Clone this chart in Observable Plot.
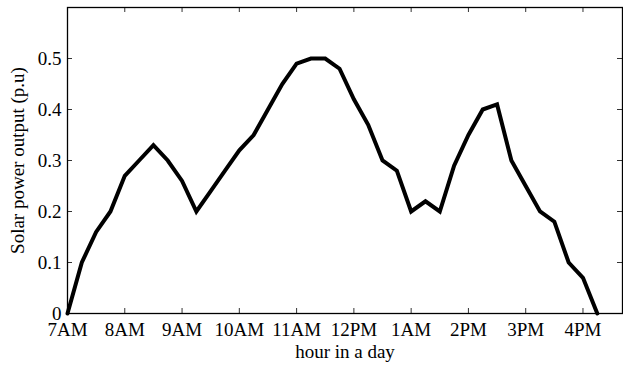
<!DOCTYPE html>
<html>
<head>
<meta charset="utf-8">
<script src="https://cdn.jsdelivr.net/npm/d3@7"></script>
<script src="https://cdn.jsdelivr.net/npm/@observablehq/plot@0.6"></script>
<style>
  html, body { margin: 0; padding: 0; background: #fff; }
  svg { display: block; }
</style>
</head>
<body>
<div id="chart"></div>
<script>
// hours after 7AM, 15-minute steps
const hours = [0, 0.25, 0.5, 0.75, 1, 1.25, 1.5, 1.75, 2, 2.25, 2.5, 2.75, 3, 3.25, 3.5, 3.75,
  4, 4.25, 4.5, 4.75, 5, 5.25, 5.5, 5.75, 6, 6.25, 6.5, 6.75, 7, 7.25, 7.5, 7.75,
  8, 8.25, 8.5, 8.75, 9, 9.25];
const power = [0, 0.10, 0.16, 0.20, 0.27, 0.30, 0.33, 0.30, 0.26, 0.20, 0.24, 0.28, 0.32, 0.35, 0.40, 0.45,
  0.49, 0.50, 0.50, 0.48, 0.42, 0.37, 0.30, 0.28, 0.20, 0.22, 0.20, 0.29, 0.35, 0.40, 0.41, 0.30,
  0.25, 0.20, 0.18, 0.10, 0.07, 0];
const xTicks = [0, 1, 2, 3, 4, 5, 6, 7, 8, 9];
const xTickLabels = ["7AM", "8AM", "9AM", "10AM", "11AM", "12PM", "1AM", "2PM", "3PM", "4PM"];
const yTicks = [0, 0.1, 0.2, 0.3, 0.4, 0.5];
const yTickLabels = ["0", "0.1", "0.2", "0.3", "0.4", "0.5"];

const data = hours.map((h, i) => ({h, p: power[i]}));
const W = 623, H = 367, mT = 7, mB = 54, mL = 67, mR = 1;
const innerH = H - mT - mB, innerW = W - mL - mR;
const tk = 5;

const chart = Plot.plot({
  width: W,
  height: H,
  marginTop: mT,
  marginBottom: mB,
  marginLeft: mL,
  marginRight: mR,
  style: {fontFamily: "'Liberation Serif', 'DejaVu Serif', serif", fontSize: "19px", color: "#000", background: "#fff"},
  x: {domain: [0, 9.69]},
  y: {domain: [0, 0.6]},
  marks: [
    // inward ticks (bottom/top/left/right)
    Plot.tickX(xTicks, {x: d => d, stroke: "#333", strokeWidth: 1, insetTop: innerH - tk}),
    Plot.tickX(xTicks, {x: d => d, stroke: "#333", strokeWidth: 1, insetBottom: innerH - tk}),
    Plot.tickY(yTicks, {y: d => d, stroke: "#333", strokeWidth: 1, insetRight: innerW - tk}),
    Plot.tickY(yTicks, {y: d => d, stroke: "#333", strokeWidth: 1, insetLeft: innerW - tk}),
    Plot.axisX(xTicks, {tickSize: 0, tickPadding: 9, tickFormat: (d, i) => xTickLabels[i], fontSize: 19, label: null}),
    Plot.axisY(yTicks, {tickSize: 0, tickPadding: 6, tickFormat: (d, i) => yTickLabels[i], fontSize: 19, label: null}),
    Plot.frame({stroke: "#000", strokeWidth: 1.3}),
    Plot.line(data, {x: "h", y: "p", stroke: "#000", strokeWidth: 4, strokeLinejoin: "miter", strokeMiterlimit: 2}),
    Plot.text(["Solar power output (p.u)"], {frameAnchor: "left", dx: -50, rotate: -90, textAnchor: "middle", lineAnchor: "middle", fontSize: 19, fill: "#000"}),
    Plot.text(["hour in a day"], {frameAnchor: "bottom", dy: 38, textAnchor: "middle", lineAnchor: "middle", fontSize: 19, fill: "#000"})
  ]
});
document.getElementById("chart").appendChild(chart);
</script>
</body>
</html>
